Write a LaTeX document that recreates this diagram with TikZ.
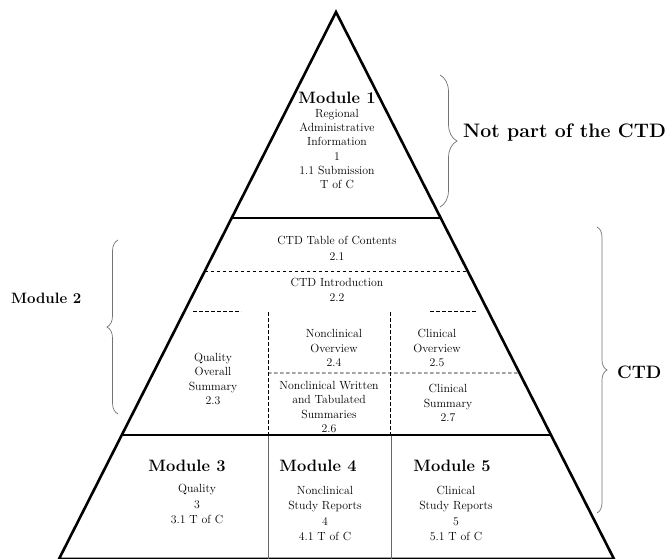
\documentclass[tikz,border=0pt]{standalone}
\usetikzlibrary{calc,decorations.pathreplacing}
\begin{document}
\begin{tikzpicture}[x=1pt,y=-1pt,
  small/.style={font=\fontsize{11.8}{14.3}\selectfont, align=center, inner sep=0pt},
  smallb/.style={font=\fontsize{11.8}{15.5}\selectfont, align=center, inner sep=0pt},
  modlabel/.style={font=\fontsize{16.5}{18}\selectfont\bfseries, inner sep=0pt},
  biglabel/.style={font=\fontsize{19.5}{22}\selectfont\bfseries, inner sep=0pt},
  edge/.style={line width=2.6pt, line join=miter},
  dsh/.style={line width=0.7pt, dash pattern=on 3.5pt off 2.5pt},
  thinrule/.style={line width=0.8pt, draw=black!60},
  bracegray/.style={decorate, decoration={brace, amplitude=#1}, draw=black!55, line width=0.7pt}
]
\useasboundingbox (0,0) rectangle (670,559);
% pyramid outline
\coordinate (apex) at (336,12);
\coordinate (bl) at (59,559);
\coordinate (br) at (614,559);
\coordinate (m1l) at ($(apex)!0.3766!(bl)$);
\coordinate (m1r) at ($(apex)!0.3766!(br)$);
\coordinate (m2l) at ($(apex)!0.7733!(bl)$);
\coordinate (m2r) at ($(apex)!0.7733!(br)$);
\coordinate (dl) at ($(apex)!0.4735!(bl)$);
\coordinate (dr) at ($(apex)!0.4735!(br)$);
\coordinate (hr) at ($(apex)!0.660!(br)$);
\draw[edge] (apex) -- (bl) -- (br) -- cycle;
\draw[edge] (m1l) -- (m1r);
\draw[edge] (m2l) -- (m2r);
% dashed separators
\draw[dsh] (dl) -- (dr);
\coordinate (sl1) at (193,311); \coordinate (sl2) at (241,311);
\coordinate (sr1) at (430,311); \coordinate (sr2) at (477,311);
\draw[dsh] (sl1) -- (sl2);
\draw[dsh] (sr1) -- (sr2);
\coordinate (v1t) at (268,312); \coordinate (v1b) at (268,435);
\coordinate (v2t) at (390,312); \coordinate (v2b) at (390,435);
\draw[dsh] (v1t) -- (v1b);
\draw[dsh] (v2t) -- (v2b);
\coordinate (hl) at (268,373);
\draw[dsh] (hl) -- (hr);
% bottom separators
\coordinate (g1t) at (268,436); \coordinate (g1b) at (268,559);
\coordinate (g2t) at (391,436); \coordinate (g2b) at (391,559);
\draw[thinrule] (g1t) -- (g1b);
\draw[thinrule] (g2t) -- (g2b);
% Module 1
\node[modlabel] (m1t) at (337,98) {Module 1};
\node[small] (m1b) at (337,149) {Regional\\Administrative\\Information\\1\\1.1 Submission\\T of C};
% braces
\coordinate (b1t) at (440,75); \coordinate (b1b) at (440,207);
\draw[bracegray=17pt] (b1t) -- (b1b);
\node[biglabel, anchor=west] (np) at (463,133) {Not part of the CTD};
\coordinate (b2b) at (118,414); \coordinate (b2t) at (118,240);
\draw[bracegray=11pt] (b2b) -- (b2t);
\node[font=\fontsize{15}{17}\selectfont\bfseries, inner sep=0pt, anchor=west] (m2) at (11,298) {Module 2};
\coordinate (b3t) at (597,227); \coordinate (b3b) at (597,513);
\draw[bracegray=10pt] (b3t) -- (b3b);
\node[font=\fontsize{18}{20}\selectfont\bfseries, inner sep=0pt, anchor=west] (ctd) at (617,372) {CTD};
% Module 2 contents
\node[small] (toc) at (337,248) {CTD Table of Contents\\[1.5pt]2.1};
\node[small] (intro) at (337,289.5) {CTD Introduction\\[1pt]2.2};
\node[small] (qos) at (213,379) {Quality\\Overall\\Summary\\2.3};
\node[small] (nco) at (334,348) {Nonclinical\\Overview\\2.4};
\node[small] (co) at (437,348) {Clinical\\Overview\\2.5};
\node[small] (ncw) at (329,407) {Nonclinical Written\\and Tabulated\\Summaries\\2.6};
\node[small] (cs) at (448,403) {Clinical\\Summary\\2.7};
% Modules 3-5
\node[modlabel] (m3) at (187,466) {Module 3};
\node[smallb] (m3b) at (197,504) {Quality\\3\\3.1 T of C};
\node[modlabel] (m4) at (318,466) {Module 4};
\node[smallb] (m4b) at (325,513.5) {Nonclinical\\Study Reports\\4\\4.1 T of C};
\node[modlabel] (m5) at (452,466) {Module 5};
\node[smallb] (m5b) at (456,513.5) {Clinical\\Study Reports\\5\\5.1 T of C};
\end{tikzpicture}
\end{document}
